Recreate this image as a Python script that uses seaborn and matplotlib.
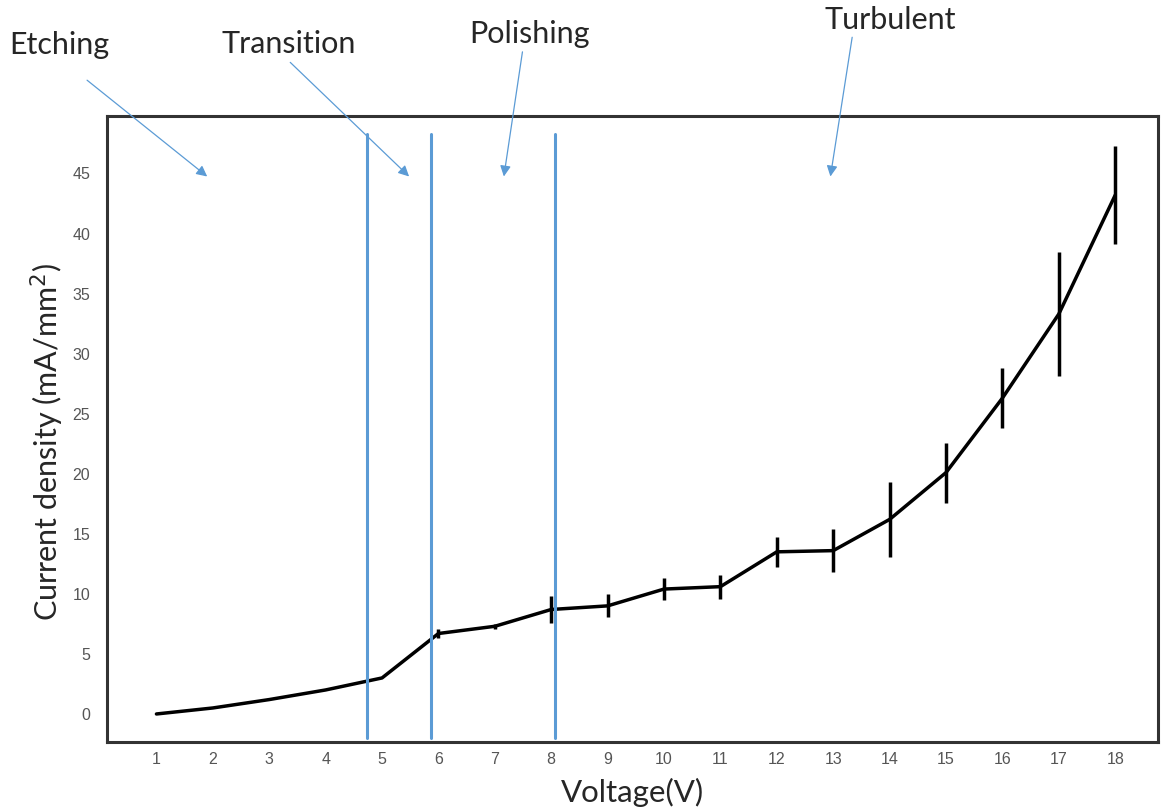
import numpy as np
import pandas as pd
import matplotlib
matplotlib.use("Agg")
import matplotlib.pyplot as plt
import seaborn as sns

# ---- data ----
voltage = [1, 2, 3, 4, 5, 6, 7, 8, 9, 10, 11, 12, 13, 14, 15, 16, 17, 18]
current = [0.0, 0.5, 1.2, 2.0, 3.0, 6.7, 7.3, 8.7, 9.0, 10.4, 10.6, 13.5, 13.6,
           16.2, 20.1, 26.3, 33.3, 43.2]
error = [0.0, 0.0, 0.0, 0.0, 0.0, 0.4, 0.2, 1.1, 0.95, 0.9, 1.0, 1.25, 1.8,
         3.1, 2.5, 2.5, 5.2, 4.1]
boundaries = [4.74, 5.87, 8.07]
regions = ["Etching", "Transition", "Polishing", "Turbulent"]
region_tips_x = [1.9, 5.48, 7.16, 12.95]
yticks = [0, 5, 10, 15, 20, 25, 30, 35, 40, 45]

df = pd.DataFrame({"Voltage": voltage, "Current": current, "Err": error})

sns.set_style("white")
fig = plt.figure(figsize=(11.61, 8.10), dpi=100)
ax = fig.add_axes([0.092, 0.084, 0.905, 0.773])

sns.lineplot(data=df, x="Voltage", y="Current", ax=ax, color="black",
             linewidth=2.5, errorbar=None)
ax.errorbar(df["Voltage"], df["Current"], yerr=df["Err"], fmt="none",
            ecolor="black", elinewidth=2.5, capsize=0)

for b in boundaries:
    ax.plot([b, b], [-2.0, 48.3], color="#5B9BD5", linewidth=2.2)

ax.set_xlim(0.12, 18.75)
ax.set_ylim(-2.33, 49.8)
ax.set_xticks(voltage)
ax.set_yticks(yticks)
ax.tick_params(axis="both", length=0, labelsize=11.5, labelcolor="#555555")
ax.tick_params(axis="x", pad=7)
ax.tick_params(axis="y", pad=12)
for lab in ax.get_xticklabels() + ax.get_yticklabels():
    lab.set_fontfamily("Liberation Sans")
for s in ax.spines.values():
    s.set_color("#333333")
    s.set_linewidth(2.2)

ax.set_xlabel("Voltage(V)", fontsize=22.5, fontfamily="Lato")
ax.set_ylabel("Current density (mA/mm$^2$)", fontsize=22, fontfamily="Lato")
ax.xaxis.set_label_coords(0.5, -0.08)
ax.yaxis.set_label_coords(-0.057, 0.479)
ax.xaxis.label.set_va("center")
ax.yaxis.label.set_va("center")

text_pos = [(0.051, 0.944), (0.249, 0.946), (0.4565, 0.958), (0.767, 0.975)]
tail_pos = [(0.075, 0.901), (0.250, 0.923), (0.450, 0.936), (0.734, 0.954)]
for name, tp, tl, tx in zip(regions, text_pos, tail_pos, region_tips_x):
    fig.text(tp[0], tp[1], name, ha="center", va="center", fontsize=22,
             fontfamily="Lato")
    ax.annotate("", xy=(tx, 44.75), xycoords="data", xytext=tl,
                textcoords="figure fraction",
                arrowprops=dict(arrowstyle="-|>", color="#5B9BD5", lw=0.9,
                                mutation_scale=16, shrinkA=0, shrinkB=0),
                annotation_clip=False)

fig.savefig("out.png", dpi=100)
